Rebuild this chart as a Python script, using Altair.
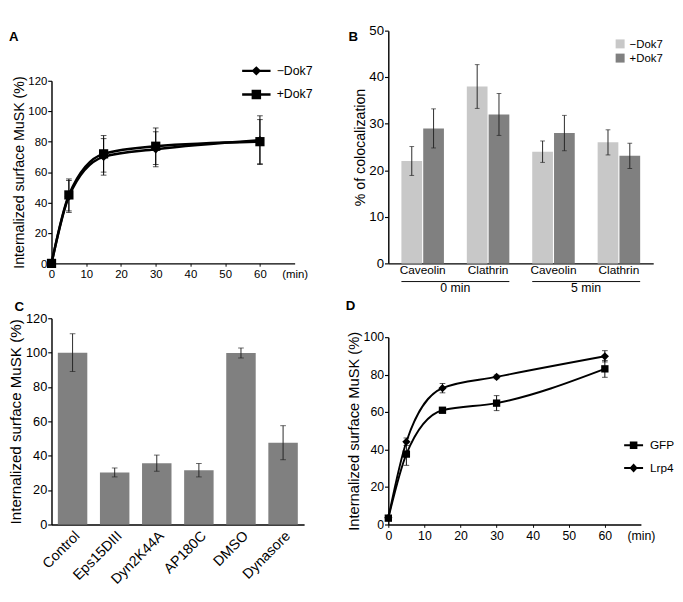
import altair as alt
import pandas as pd

FONT = "Liberation Sans"
YTITLE = "Internalized surface MuSK (%)"

# ---------------- Panel A : internalization time course ----------------
time_a = [0, 5, 15, 30, 60]
series_a = ["−Dok7", "+Dok7"]
minus_dok7_a = [0, 44, 70, 75, 81]
minus_dok7_a_err = [0, 10.5, 12, 11.5, 16]
plus_dok7_a = [0, 45, 72, 77, 80]
plus_dok7_a_err = [0, 10.5, 12, 12, 14.5]

# ---------------- Panel B : colocalization ----------------
groups_b = ["0 min", "5 min"]
times_b = ["0 min", "0 min", "5 min", "5 min"]
markers_b = ["Caveolin", "Clathrin", "Caveolin", "Clathrin"]
minus_dok7_b = [22, 38, 24, 26]
minus_dok7_b_err = [3.1, 4.7, 2.3, 2.7]
plus_dok7_b = [29, 32, 28, 23.1]
plus_dok7_b_err = [4.2, 4.5, 3.8, 2.7]

# ---------------- Panel C : inhibitors ----------------
treatments = ["Control", "Eps15DIII", "Dyn2K44A", "AP180C", "DMSO", "Dynasore"]
c_values = [100, 30.3, 35.7, 31.6, 99.8, 47.6]
c_err = [11, 2.6, 4.7, 3.9, 2.9, 9.9]

# ---------------- Panel D : GFP vs Lrp4 ----------------
time_d = [0, 5, 15, 30, 60]
series_d = ["GFP", "Lrp4"]
gfp = [3.4, 37.6, 61, 64.8, 83.1]
gfp_err = [0, 6, 1, 4, 4.5]
lrp4 = [3.6, 44.2, 72.8, 78.8, 89.8]
lrp4_err = [0, 2, 2.5, 1, 3]


def long_df(times, names, vals, errs):
    rows = []
    for name, v, e in zip(names, vals, errs):
        for t, vv, ee in zip(times, v, e):
            rows.append({"time": t, "series": name, "value": vv, "lo": vv - ee, "hi": vv + ee})
    return pd.DataFrame(rows)


df_a = long_df(time_a, series_a, [minus_dok7_a, plus_dok7_a], [minus_dok7_a_err, plus_dok7_a_err])
df_d = long_df(time_d, series_d, [gfp, lrp4], [gfp_err, lrp4_err])

slots_b = [t + "|" + m for t, m in zip(times_b, markers_b)]
rows_b = []
for name, vals, errs in [(series_a[0], minus_dok7_b, minus_dok7_b_err), (series_a[1], plus_dok7_b, plus_dok7_b_err)]:
    for s, v, e in zip(slots_b, vals, errs):
        rows_b.append({"slot": s, "series": name, "value": v, "lo": v - e, "hi": v + e})
df_b = pd.DataFrame(rows_b)
df_groups = pd.DataFrame({"time": groups_b,
                          "first": [g + "|Caveolin" for g in groups_b],
                          "last": [g + "|Clathrin" for g in groups_b]})

df_c = pd.DataFrame({"treat": treatments, "value": c_values})
df_c["lo"] = [v - e for v, e in zip(c_values, c_err)]
df_c["hi"] = [v + e for v, e in zip(c_values, c_err)]


def yaxis(title, values, label_fs, title_fs):
    return alt.Axis(title=title, values=values, grid=False, tickSize=4, tickColor="black",
                    domainColor="black", domainWidth=1.5, tickWidth=1.2,
                    labelFontSize=label_fs, labelColor="black", labelFont=FONT, labelPadding=1,
                    titleFont=FONT, titleFontSize=title_fs, titleFontWeight="normal",
                    titleColor="black", titlePadding=2)


def time_axis(label_fs):
    return alt.Axis(title=None, values=[0, 10, 20, 30, 40, 50, 60, 70],
                    labelExpr="datum.value == 70 ? '(min)' : datum.label",
                    labelFlush=False, labelOverlap=False, grid=False, tickSize=3,
                    tickColor="black",
                    tickOpacity={"condition": {"test": "datum.value == 70", "value": 0}, "value": 1},
                    domainColor="black", domainWidth=1.5, labelFontSize=label_fs,
                    labelColor="black", labelFont=FONT, labelPadding=3)


def letter(text, dx, offset):
    return alt.TitleParams(text, anchor="start", frame="group", orient="top", baseline="top",
                           offset=offset, dx=dx, fontSize=14, fontWeight="bold",
                           font=FONT, color="black")


def line_panel(df, names, shapes, sizes, legend_paths, legend_kw, ydomain, yrange, yvalues,
               width, height, lw, label_fs, title_fs, title):
    x = alt.X("time:Q", scale=alt.Scale(domain=[0, 70], nice=False, zero=False),
              axis=time_axis(label_fs))

    def y(field):
        return alt.Y(f"{field}:Q", scale=alt.Scale(domain=ydomain, range=yrange, nice=False, zero=False),
                     axis=yaxis(YTITLE, yvalues, label_fs, title_fs))

    base = alt.Chart(df)
    rules = base.mark_rule(color="black", strokeWidth=1).encode(x=x, y=y("lo"), y2="hi:Q")
    t_lo = base.mark_tick(orient="horizontal", color="black", thickness=1, size=6).encode(x=x, y=y("lo"))
    t_hi = base.mark_tick(orient="horizontal", color="black", thickness=1, size=6).encode(x=x, y=y("hi"))
    lines = base.mark_line(interpolate="monotone", color="black", strokeWidth=lw).encode(
        x=x, y=y("value"), detail="series:N")
    pts = base.mark_point(filled=True, color="black", opacity=1).encode(
        x=x, y=y("value"),
        shape=alt.Shape("series:N", scale=alt.Scale(domain=names, range=shapes), legend=None),
        size=alt.Size("series:N", scale=alt.Scale(domain=names, range=sizes), legend=None))
    # legend-only layer (no rows drawn): its symbols are a line with the marker on it
    key = base.transform_filter("false").mark_point(filled=True, color="black").encode(
        x=x, y=y("value"),
        shape=alt.Shape("series:N", scale=alt.Scale(domain=names, range=legend_paths),
                        legend=alt.Legend(title=None, orient="none", padding=0, labelColor="black",
                                          labelFont=FONT, symbolOpacity=1,
                                          symbolFillColor="black", **legend_kw)))
    return alt.layer(rules, t_lo, t_hi, lines, pts, key).resolve_scale(shape="independent").properties(
        width=width, height=height, title=title)


# ---------- A ----------
panelA = line_panel(df_a, series_a, ["diamond", "square"], [80, 95],
                    ["M-3,-0.26H3V0.26H-3ZM0,-1L1,0L0,1L-1,0Z",
                     "M-3,-0.26H3V0.26H-3ZM-1,-1H1V1H-1Z"],
                    dict(legendX=210, legendY=36, symbolSize=100, labelOffset=15, rowPadding=8,
                         labelFontSize=13),
                    [0, 120], [246, 53], [0, 20, 40, 60, 80, 100, 120], 257, 246, 2.6, 12, 15,
                    letter("A", -45, -14))

# ---------- D ----------
panelD = line_panel(df_d, series_d, ["square", "diamond"], [60, 75],
                    ["M-2.5,-0.25H2.5V0.25H-2.5ZM-1,-1H1V1H-1Z",
                     "M-2.5,-0.25H2.5V0.25H-2.5ZM0,-1.2L1.1,0L0,1.2L-1.1,0Z"],
                    dict(legendX=253, legendY=128, symbolSize=64, labelOffset=11, rowPadding=8,
                         labelFontSize=12.5),
                    [0, 100], [218, 20], [0, 20, 40, 60, 80, 100], 267, 218, 2, 13, 15.5,
                    letter("D", -45, 6))

# ---------- B ----------
xscale_b = alt.Scale(domain=slots_b, paddingInner=0.35, paddingOuter=0.2)
xaxis_b = alt.Axis(title=None, labelAngle=0, ticks=False, domainColor="black", domainWidth=1.5,
                   labelExpr="split(datum.label, '|')[1]",
                   labelFontSize=12.5, labelColor="black", labelFont=FONT, labelPadding=1)


def xb(field, band=None):
    if band is None:
        return alt.X(f"{field}:N", scale=xscale_b, axis=xaxis_b)
    return alt.X(f"{field}:N", scale=xscale_b, axis=xaxis_b, bandPosition=band)


def yb(field):
    return alt.Y(f"{field}:Q", scale=alt.Scale(domain=[0, 50], nice=False),
                 axis=yaxis("% of colocalization", [0, 10, 20, 30, 40, 50], 14, 15))


xob = alt.XOffset("series:N", sort=series_a, scale=alt.Scale(paddingInner=0.05))
baseB = alt.Chart(df_b)
barsB = baseB.mark_bar().encode(
    x=xb("slot"), xOffset=xob, y=yb("value"),
    color=alt.Color("series:N", scale=alt.Scale(domain=series_a, range=["#c8c8c8", "#808080"]),
                    legend=alt.Legend(title=None, orient="none", legendX=239, legendY=8,
                                      symbolType="square", symbolSize=90, symbolOpacity=1,
                                      labelOffset=4, rowPadding=3, padding=0,
                                      labelFontSize=12, labelColor="black", labelFont=FONT)))
errB = baseB.mark_rule(color="#222222", strokeWidth=1).encode(x=xb("slot"), xOffset=xob, y=yb("lo"), y2="hi:Q")
capLoB = baseB.mark_tick(orient="horizontal", color="#222222", thickness=1, size=5).encode(
    x=xb("slot"), xOffset=xob, y=yb("lo"))
capHiB = baseB.mark_tick(orient="horizontal", color="#222222", thickness=1, size=5).encode(
    x=xb("slot"), xOffset=xob, y=yb("hi"))
baseG = alt.Chart(df_groups)
underline = baseG.mark_rule(color="black", strokeWidth=1).encode(
    x=xb("first", 0), x2=alt.X2("last:N", bandPosition=1), y=alt.datum(-3.9))
group_text = baseG.mark_text(fontSize=13, font=FONT, color="black", baseline="middle", dx=12).encode(
    x=xb("first", 1), y=alt.datum(-5.3), text="time:N")
panelB = alt.layer(barsB, errB, capLoB, capHiB, underline, group_text).properties(
    width=280, height=246, title=letter("B", -42, -21))

# ---------- C ----------
xc = alt.X("treat:N", sort=treatments, scale=alt.Scale(paddingInner=0.3, paddingOuter=0.15),
           axis=alt.Axis(title=None, labelAngle=-45, ticks=False, domainColor="black", domainWidth=1.5,
                         labelFontSize=15, labelColor="black", labelFont=FONT, labelPadding=4))


def yc(field):
    return alt.Y(f"{field}:Q", scale=alt.Scale(domain=[0, 120], nice=False),
                 axis=yaxis(YTITLE, [0, 20, 40, 60, 80, 100, 120], 13.5, 16))


baseC = alt.Chart(df_c)
barsC = baseC.mark_bar(color="#808080").encode(x=xc, y=yc("value"))
errC = baseC.mark_rule(color="#222222", strokeWidth=1).encode(x=xc, y=yc("lo"), y2="hi:Q")
capLoC = baseC.mark_tick(orient="horizontal", color="#222222", thickness=1, size=6).encode(x=xc, y=yc("lo"))
capHiC = baseC.mark_tick(orient="horizontal", color="#222222", thickness=1, size=6).encode(x=xc, y=yc("hi"))
panelC = alt.layer(barsC, errC, capLoC, capHiC).properties(width=267, height=218,
                                                           title=letter("C", -39, -2))

chart = alt.concat(panelA, panelB, panelC, panelD, columns=2,
                   spacing={"row": 58, "column": 89}, bounds="flush", align="each").resolve_scale(
    shape="independent", size="independent", color="independent").properties(
    padding={"left": 0, "top": 0, "right": 0, "bottom": 0}).configure(font=FONT).configure_view(stroke=None)

chart.save("out.html", embed_options={"renderer": "svg", "actions": False})
